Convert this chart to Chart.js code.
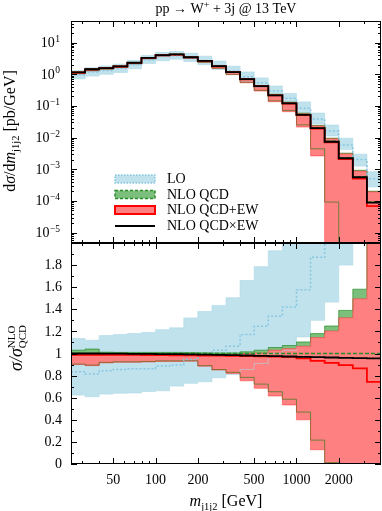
<!DOCTYPE html>
<html>
<head>
<meta charset="utf-8">
<script src="https://cdn.jsdelivr.net/npm/chart.js@4.4.0/dist/chart.umd.min.js"></script>
<style>
  html, body { margin: 0; padding: 0; background: #fff; }
  #wrap { position: relative; width: 382px; height: 511px; }
  #wrap canvas { position: absolute; left: 0; top: 0; }
</style>
</head>
<body>
<div id="wrap">
  <canvas id="topChart" width="382" height="511"></canvas>
  <canvas id="ratioChart" width="382" height="511"></canvas>
</div>
<script>
// bin edges of m_j1j2 [GeV]
const binEdges = [25.12, 31.62, 39.81, 50.12, 63.10, 79.43, 100, 125.9, 158.5, 199.5, 251.2,
                  316.2, 398.1, 501.2, 631.0, 794.3, 1000, 1259, 1585, 1995, 2512, 3162, 3981];

// NLO QCD central value per bin [pb/GeV]
const nloQcd = [1.15, 1.44, 1.57, 1.78, 2.31, 3.31, 4.04, 4.25, 3.47, 2.69, 1.82,
                1.19, 0.713, 0.429, 0.221, 0.123, 0.0536, 0.0205, 0.00768, 0.00232, 0.000585, 0.000092];

// everything below is a ratio to NLO QCD
const loUp  = [1.135, 1.12, 1.162, 1.172, 1.18, 1.19, 1.216, 1.232, 1.322, 1.38, 1.435,
               1.505, 1.66, 1.786, 1.93, 2.02, 2.5, 2.9, 3.25, 4.1, 5.1, 9.1];
const loMid = [0.834, 0.814, 0.843, 0.856, 0.862, 0.862, 0.886, 0.897, 0.946, 0.99, 1.03,
               1.066, 1.171, 1.246, 1.336, 1.42, 1.577, 1.87, 2.1, 2.5, 3.5, 5.5];
const loLow = [0.624, 0.609, 0.633, 0.64, 0.643, 0.657, 0.663, 0.705, 0.73, 0.744, 0.78,
               0.81, 0.856, 0.91, 1.0, 1.03, 1.15, 1.3, 1.465, 1.8, 2.15, 3.0];

const qcdUp  = [1.03, 1.04, 1.012, 1.01, 1.01, 1.01, 1.01, 1.01, 1.008, 1.006, 1.005,
                1.005, 1.015, 1.03, 1.054, 1.072, 1.105, 1.18, 1.249, 1.39, 1.582, 2.2];
const qcdMid = [1, 1, 1, 1, 1, 1, 1, 1, 1, 1, 1, 1, 1, 1, 1, 1, 1, 1, 1, 1, 1, 1];
const qcdLow = [0.904, 0.895, 0.92, 0.925, 0.925, 0.928, 0.933, 0.933, 0.935, 0.89, 0.855,
                0.83, 0.784, 0.723, 0.654, 0.586, 0.47, 0.216, 0.012, -0.05, -0.2, -0.5];

const ewUp  = [0.99, 0.99, 0.99, 0.99, 0.99, 0.99, 0.99, 0.99, 0.99, 0.99, 0.99,
               0.99, 1.0, 1.005, 1.03, 1.044, 1.066, 1.144, 1.204, 1.324, 1.495, 2.12];
const ewMid = [0.988, 0.988, 0.988, 0.987, 0.987, 0.986, 0.985, 0.984, 0.983, 0.982, 0.98,
               0.978, 0.976, 0.974, 0.972, 0.97, 0.955, 0.933, 0.915, 0.895, 0.865, 0.744];
const ewLow = [0.9, 0.89, 0.915, 0.92, 0.92, 0.923, 0.928, 0.928, 0.93, 0.885, 0.85,
               0.82, 0.753, 0.685, 0.615, 0.534, 0.4, 0.129, -0.1, -0.3, -0.6, -1.0];

const qcdTimesEw = [1.0, 1.0, 0.999, 0.998, 0.997, 0.996, 0.995, 0.994, 0.992, 0.99, 0.988,
                    0.985, 0.982, 0.979, 0.976, 0.973, 0.97, 0.967, 0.964, 0.961, 0.958, 0.955];

// ticks
const xTickLabels = [50, 100, 200, 500, 1000, 2000];
const xMinorTicks = [30, 40, 60, 70, 80, 90, 300, 400, 600, 700, 800, 900, 3000];
const yTopExponents = [-5, -4, -3, -2, -1, 0, 1];
const ratioTicks = [0, 0.2, 0.4, 0.6, 0.8, 1, 1.2, 1.4, 1.6, 1.8];
const ratioTickLabels = ['0', '0.2', '0.4', '0.6', '0.8', '1', '1.2', '1.4', '1.6', '1.8'];
const legendLabels = ['LO', 'NLO QCD', 'NLO QCD+EW', 'NLO QCD\u00d7EW'];

const SERIF = "'Liberation Serif', 'DejaVu Serif', serif";
const rm = n => n + 'px ' + SERIF;
const it = n => 'italic ' + n + 'px ' + SERIF;

const LO_FILL = 'rgb(192,226,237)';
const LO_EDGE = 'rgba(173,216,230,0.6)';
const LO_LINE = 'rgb(135,198,224)';
const QCD_FILL = 'rgb(124,191,124)';
const QCD_EDGE = 'rgba(0,120,0,0.55)';
const QCD_LINE = 'rgb(40,140,40)';
const EW_FILL = 'rgb(255,128,128)';
const EW_EDGE = 'rgba(255,40,40,0.45)';
const EW_LINE = 'rgb(255,0,0)';

// histogram points: one point per left bin edge, last edge repeats last bin
function steps(vals, base) {
    return binEdges.map((x, i) => {
        const k = Math.min(i, vals.length - 1);
        let y = vals[k];
        if (base) y = Math.max(y * base[k], 1e-9);
        return { x: x, y: y };
    });
}

function buildDatasets(isTop) {
    const s = r => steps(r, isTop ? nloQcd : null);
    const band = (data, color, order, fill) => ({
        data: data, fill: fill ? '+1' : false, backgroundColor: color,
        borderWidth: 0, order: order, stepped: true, pointRadius: 0
    });
    const line = (data, color, width, dash, order) => ({
        data: data, fill: false, borderColor: color, borderWidth: width,
        borderDash: dash, order: order, stepped: true, pointRadius: 0
    });
    return [
        band(s(loUp), LO_FILL, 10, true),
        band(s(loLow), LO_FILL, 10, false),
        band(s(qcdUp), QCD_FILL, 9, true),
        band(s(qcdLow), QCD_FILL, 9, false),
        band(s(ewUp), EW_FILL, 8, true),
        band(s(ewLow), EW_FILL, 8, false),
        line(s(loUp), LO_EDGE, 1, [], 7),
        line(s(loLow), LO_EDGE, 1, [], 7),
        line(s(ewUp), EW_EDGE, 1, [], 6),
        line(s(ewLow), EW_EDGE, 1, [], 6),
        line(s(qcdUp), QCD_EDGE, 1, [], 6),
        line(s(qcdLow), QCD_EDGE, 1, [], 6),
        line(s(loMid), LO_LINE, 1.5, [2, 2], 5),
        line(s(qcdMid), QCD_LINE, 1.5, [4, 2], 4),
        line(s(ewMid), EW_LINE, 1.8, [], 3),
        line(s(qcdTimesEw), '#000', 1.8, [], 2)
    ];
}

// draws text made of pieces [text, font, dy, stacked]
function rich(ctx, parts, x, y, align) {
    let w = 0;
    parts.forEach(p => { ctx.font = p[1]; if (!p[3]) w += ctx.measureText(p[0]).width; });
    let cx = align === 'center' ? x - w / 2 : (align === 'right' ? x - w : x);
    ctx.textAlign = 'left';
    parts.forEach(p => {
        ctx.font = p[1];
        ctx.fillText(p[0], cx, y + (p[2] || 0));
        if (!p[3]) cx += ctx.measureText(p[0]).width;
    });
}

const framePlugin = {
    id: 'frame',
    afterDraw(chart, args, opts) {
        const ctx = chart.ctx, a = chart.chartArea;
        const xs = chart.scales.x, ys = chart.scales.y;
        ctx.save();
        ctx.strokeStyle = '#000';
        ctx.fillStyle = '#000';
        ctx.lineWidth = 1;
        ctx.setLineDash([]);
        ctx.strokeRect(a.left + 0.5, a.top + 0.5, a.right - a.left - 1, a.bottom - a.top - 1);

        ctx.beginPath();
        const xt = (v, len) => {
            const p = Math.round(xs.getPixelForValue(v)) + 0.5;
            ctx.moveTo(p, a.top); ctx.lineTo(p, a.top + len);
            ctx.moveTo(p, a.bottom); ctx.lineTo(p, a.bottom - len);
        };
        const yt = (v, len) => {
            const p = Math.round(ys.getPixelForValue(v)) + 0.5;
            ctx.moveTo(a.left, p); ctx.lineTo(a.left + len, p);
            ctx.moveTo(a.right, p); ctx.lineTo(a.right - len, p);
        };
        xTickLabels.forEach(v => xt(v, 6));
        xMinorTicks.forEach(v => xt(v, 3));
        if (opts.top) {
            [-6].concat(yTopExponents).forEach(e => {
                if (10 ** e > ys.min) yt(10 ** e, 6);
                for (let k = 2; k < 10; k++) {
                    const v = k * 10 ** e;
                    if (v > ys.min && v < ys.max) yt(v, 3);
                }
            });
        } else {
            ratioTicks.forEach(v => yt(v, 6));
            ratioTicks.forEach(v => yt(v + 0.1, 3));
        }
        ctx.stroke();

        if (opts.top) {
            // y labels 10^n
            ctx.textBaseline = 'alphabetic';
            yTopExponents.forEach(e => {
                const p = ys.getPixelForValue(10 ** e);
                const ex = e < 0 ? '\u2212' + (-e) : String(e);
                ctx.font = rm(9.5);
                const ew = ctx.measureText(ex).width;
                ctx.textAlign = 'right';
                ctx.fillText(ex, 60, p - 1);
                ctx.font = rm(14);
                ctx.fillText('10', 60 - ew - 0.5, p + 4.5);
            });
            // title
            rich(ctx, [['pp \u2192 W', rm(14)], ['+', rm(10), -5], [' + 3j @ 13 TeV', rm(14)]],
                 (a.left + a.right) / 2, 13, 'center');
            // y title
            ctx.save();
            ctx.translate(15, 131);
            ctx.rotate(-Math.PI / 2);
            rich(ctx, [['d', rm(16)], ['\u03c3', it(16)], ['/d', rm(16)], ['m', it(16)],
                       ['j1j2', rm(10.5), 4], [' [pb/GeV]', rm(16)]], 0, 0, 'center');
            ctx.restore();

            // legend
            const rows = [179, 194.5, 210, 226];
            const bx = 115, bw = 40, bh = 8;
            ctx.lineWidth = 1.5;
            ctx.fillStyle = LO_FILL;
            ctx.fillRect(bx, rows[0] - bh / 2, bw, bh);
            ctx.strokeStyle = LO_LINE; ctx.setLineDash([1.5, 1.5]);
            ctx.strokeRect(bx, rows[0] - bh / 2, bw, bh);
            ctx.fillStyle = QCD_FILL;
            ctx.fillRect(bx, rows[1] - bh / 2, bw, bh);
            ctx.strokeStyle = QCD_LINE; ctx.setLineDash([3, 2]);
            ctx.strokeRect(bx, rows[1] - bh / 2, bw, bh);
            ctx.setLineDash([]);
            ctx.fillStyle = EW_FILL;
            ctx.fillRect(bx, rows[2] - bh / 2, bw, bh);
            ctx.lineWidth = 2; ctx.strokeStyle = EW_LINE;
            ctx.strokeRect(bx, rows[2] - bh / 2, bw, bh);
            ctx.strokeStyle = '#000';
            ctx.beginPath(); ctx.moveTo(bx, rows[3]); ctx.lineTo(bx + bw, rows[3]); ctx.stroke();
            ctx.fillStyle = '#000';
            ctx.font = rm(14);
            ctx.textAlign = 'left';
            ctx.textBaseline = 'middle';
            legendLabels.forEach((t, i) => ctx.fillText(t, 167, rows[i] + 0.5));
        } else {
            ctx.font = rm(14);
            ctx.textAlign = 'right';
            ctx.textBaseline = 'middle';
            ratioTicks.forEach((v, i) => ctx.fillText(ratioTickLabels[i], 62, ys.getPixelForValue(v) + 0.5));
            ctx.textAlign = 'center';
            ctx.textBaseline = 'alphabetic';
            xTickLabels.forEach(v => ctx.fillText(String(v), xs.getPixelForValue(v), 484));
            rich(ctx, [['m', it(16)], ['j1j2', rm(10.5), 4], [' [GeV]', rm(16)]],
                 (a.left + a.right) / 2, 506, 'center');
            ctx.save();
            ctx.translate(22, 348);
            ctx.rotate(-Math.PI / 2);
            rich(ctx, [['\u03c3/\u03c3', it(18)], ['NLO', rm(11), -7, true], ['QCD', rm(11), 4]], 0, 0, 'center');
            ctx.restore();
        }
        ctx.restore();
    }
};

function makeChart(id, isTop) {
    return new Chart(document.getElementById(id), {
        type: 'line',
        data: { datasets: buildDatasets(isTop) },
        options: {
            responsive: false,
            animation: false,
            devicePixelRatio: 1,
            layout: {
                padding: isTop ? { left: 71, right: 1, top: 21, bottom: 268 }
                               : { left: 71, right: 1, top: 243, bottom: 47 }
            },
            scales: {
                x: { type: 'logarithmic', min: binEdges[0], max: binEdges[binEdges.length - 1], display: false },
                y: isTop ? { type: 'logarithmic', min: 4.7e-6, max: 48, display: false }
                         : { type: 'linear', min: 0, max: 2, display: false }
            },
            elements: { line: { tension: 0 }, point: { radius: 0 } },
            plugins: {
                legend: { display: false },
                tooltip: { enabled: false },
                frame: { top: isTop }
            }
        },
        plugins: [framePlugin]
    });
}

makeChart('topChart', true);
makeChart('ratioChart', false);
</script>
</body>
</html>
